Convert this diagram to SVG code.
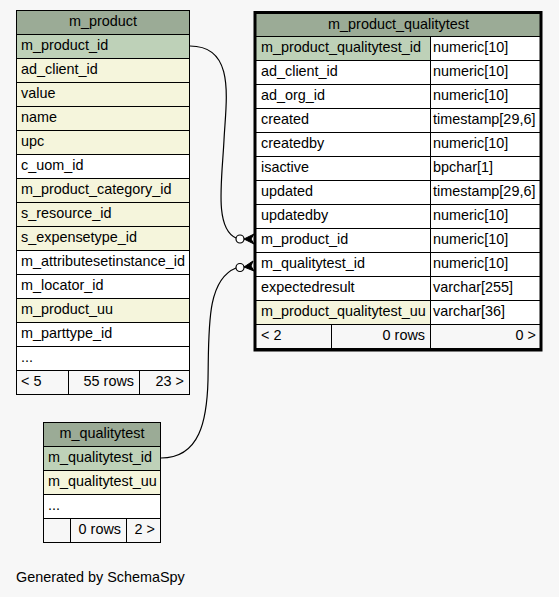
<svg xmlns="http://www.w3.org/2000/svg" width="559" height="597" viewBox="0 0 559 597">
<style>
text{font-family:"Liberation Sans",Arial,sans-serif;font-size:14.4px;fill:#000}
.c{stroke:#000;stroke-width:1}
.th{fill:#9bab96}
.pk{fill:#bed1b8}
.ix{fill:#f5f5dc}
.pl{fill:#ffffff}
.ft{fill:#f7f7f7}
.mid{text-anchor:middle}
.end{text-anchor:end}
.edge{fill:none;stroke:#000;stroke-width:1.2}
.odot{fill:#fff;stroke:#000;stroke-width:1.2}
.crow{fill:#000;stroke:#000;stroke-width:1}
</style>
<rect x="0" y="0" width="559" height="597" fill="#f7f7f7"/>

<g id="m_product">
<rect class="c th" x="16.5" y="10.5" width="173" height="24"/>
<text class="mid" x="103" y="26">m_product</text>
<rect class="c pk" x="16.5" y="34.5" width="173" height="24"/>
<text x="21" y="50">m_product_id</text>
<rect class="c ix" x="16.5" y="58.5" width="173" height="24"/>
<text x="21" y="74">ad_client_id</text>
<rect class="c ix" x="16.5" y="82.5" width="173" height="24"/>
<text x="21" y="98">value</text>
<rect class="c ix" x="16.5" y="106.5" width="173" height="24"/>
<text x="21" y="122">name</text>
<rect class="c ix" x="16.5" y="130.5" width="173" height="24"/>
<text x="21" y="146">upc</text>
<rect class="c pl" x="16.5" y="154.5" width="173" height="24"/>
<text x="21" y="170">c_uom_id</text>
<rect class="c ix" x="16.5" y="178.5" width="173" height="24"/>
<text x="21" y="194">m_product_category_id</text>
<rect class="c ix" x="16.5" y="202.5" width="173" height="24"/>
<text x="21" y="218">s_resource_id</text>
<rect class="c ix" x="16.5" y="226.5" width="173" height="24"/>
<text x="21" y="242">s_expensetype_id</text>
<rect class="c pl" x="16.5" y="250.5" width="173" height="24"/>
<text x="21" y="266">m_attributesetinstance_id</text>
<rect class="c pl" x="16.5" y="274.5" width="173" height="24"/>
<text x="21" y="290">m_locator_id</text>
<rect class="c ix" x="16.5" y="298.5" width="173" height="24"/>
<text x="21" y="314">m_product_uu</text>
<rect class="c pl" x="16.5" y="322.5" width="173" height="24"/>
<text x="21" y="338">m_parttype_id</text>
<rect class="c pl" x="16.5" y="346.5" width="173" height="24"/>
<text x="21" y="362">...</text>
<rect class="c ft" x="16.5" y="370.5" width="52" height="24"/>
<rect class="c ft" x="68.5" y="370.5" width="71" height="24"/>
<rect class="c ft" x="139.5" y="370.5" width="50" height="24"/>
<text x="21" y="386">&lt; 5</text>
<text class="end" x="134" y="386">55 rows</text>
<text class="end" x="184" y="386">23 &gt;</text>
</g>

<g id="m_product_qualitytest">
<rect class="th" x="256" y="14" width="285" height="22.5"/>
<line class="c" x1="256" y1="36.5" x2="541" y2="36.5"/>
<text class="mid" x="398.5" y="28.5">m_product_qualitytest</text>
<rect class="c pk" x="255.5" y="36.5" width="175" height="24"/>
<rect class="c pl" x="430.5" y="36.5" width="111" height="24"/>
<text x="261" y="52">m_product_qualitytest_id</text>
<text x="433" y="52">numeric[10]</text>
<rect class="c pl" x="255.5" y="60.5" width="175" height="24"/>
<rect class="c pl" x="430.5" y="60.5" width="111" height="24"/>
<text x="261" y="76">ad_client_id</text>
<text x="433" y="76">numeric[10]</text>
<rect class="c pl" x="255.5" y="84.5" width="175" height="24"/>
<rect class="c pl" x="430.5" y="84.5" width="111" height="24"/>
<text x="261" y="100">ad_org_id</text>
<text x="433" y="100">numeric[10]</text>
<rect class="c pl" x="255.5" y="108.5" width="175" height="24"/>
<rect class="c pl" x="430.5" y="108.5" width="111" height="24"/>
<text x="261" y="124">created</text>
<text x="433" y="124">timestamp[29,6]</text>
<rect class="c pl" x="255.5" y="132.5" width="175" height="24"/>
<rect class="c pl" x="430.5" y="132.5" width="111" height="24"/>
<text x="261" y="148">createdby</text>
<text x="433" y="148">numeric[10]</text>
<rect class="c pl" x="255.5" y="156.5" width="175" height="24"/>
<rect class="c pl" x="430.5" y="156.5" width="111" height="24"/>
<text x="261" y="172">isactive</text>
<text x="433" y="172">bpchar[1]</text>
<rect class="c pl" x="255.5" y="180.5" width="175" height="24"/>
<rect class="c pl" x="430.5" y="180.5" width="111" height="24"/>
<text x="261" y="196">updated</text>
<text x="433" y="196">timestamp[29,6]</text>
<rect class="c pl" x="255.5" y="204.5" width="175" height="24"/>
<rect class="c pl" x="430.5" y="204.5" width="111" height="24"/>
<text x="261" y="220">updatedby</text>
<text x="433" y="220">numeric[10]</text>
<rect class="c pl" x="255.5" y="228.5" width="175" height="24"/>
<rect class="c pl" x="430.5" y="228.5" width="111" height="24"/>
<text x="261" y="244">m_product_id</text>
<text x="433" y="244">numeric[10]</text>
<rect class="c pl" x="255.5" y="252.5" width="175" height="24"/>
<rect class="c pl" x="430.5" y="252.5" width="111" height="24"/>
<text x="261" y="268">m_qualitytest_id</text>
<text x="433" y="268">numeric[10]</text>
<rect class="c pl" x="255.5" y="276.5" width="175" height="24"/>
<rect class="c pl" x="430.5" y="276.5" width="111" height="24"/>
<text x="261" y="292">expectedresult</text>
<text x="433" y="292">varchar[255]</text>
<rect class="c ix" x="255.5" y="300.5" width="175" height="24"/>
<rect class="c pl" x="430.5" y="300.5" width="111" height="24"/>
<text x="261" y="316">m_product_qualitytest_uu</text>
<text x="433" y="316">varchar[36]</text>
<rect class="c ft" x="255.5" y="324.5" width="76" height="24"/>
<rect class="c ft" x="331.5" y="324.5" width="99" height="24"/>
<rect class="c ft" x="430.5" y="324.5" width="111" height="24"/>
<text x="261" y="340">&lt; 2</text>
<text class="end" x="425" y="340">0 rows</text>
<text class="end" x="536" y="340">0 &gt;</text>
<rect x="255" y="12.5" width="286" height="337.5" fill="none" stroke="#000" stroke-width="3"/>
</g>

<g id="m_qualitytest">
<rect class="c th" x="43.5" y="422.5" width="117" height="24"/>
<text class="mid" x="102" y="438">m_qualitytest</text>
<rect class="c pk" x="43.5" y="446.5" width="117" height="24"/>
<text x="48" y="462">m_qualitytest_id</text>
<rect class="c ix" x="43.5" y="470.5" width="117" height="24"/>
<text x="48" y="486">m_qualitytest_uu</text>
<rect class="c pl" x="43.5" y="494.5" width="117" height="24"/>
<text x="48" y="510">...</text>
<rect class="c ft" x="43.5" y="518.5" width="27" height="24"/>
<rect class="c ft" x="70.5" y="518.5" width="56" height="24"/>
<rect class="c ft" x="126.5" y="518.5" width="34" height="24"/>
<text class="end" x="121" y="534">0 rows</text>
<text class="end" x="155" y="534">2 &gt;</text>
</g>

<g id="connectors">
<path class="edge" d="M190,46 C236,46 226,100 224,140 C222,180 214,228 236,238"/>
<circle class="odot" cx="240" cy="239" r="4"/>
<polygon class="crow" points="244,239 254,234 251,239 254,244"/>
<path class="edge" d="M161,458 C200,458 207,420 208,380 C209,330 206,280 236,268"/>
<circle class="odot" cx="240" cy="267.5" r="4"/>
<polygon class="crow" points="244,267 253,261 251,266 254,271"/>
</g>

<text x="16" y="582">Generated by SchemaSpy</text>
</svg>
